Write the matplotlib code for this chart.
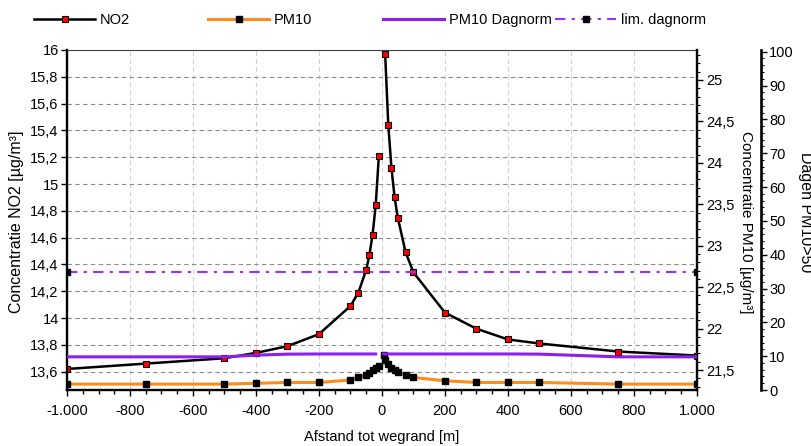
import numpy as np
import matplotlib
matplotlib.use('Agg')
import matplotlib.pyplot as plt
from matplotlib.ticker import MultipleLocator, FuncFormatter

# afstand tot wegrand [m]; 0 is a gap (no value at the road edge)
afstand = [-1000, -750, -500, -400, -300, -200, -100, -75, -50, -40, -30, -20, -10,
           0, 5, 10, 20, 30, 40, 50, 75, 100, 200, 300, 400, 500, 750, 1000]
nan = np.nan
no2 = [13.62, 13.66, 13.70, 13.74, 13.79, 13.88, 14.09, 14.19, 14.36, 14.47, 14.62, 14.84, 15.21,
       nan, nan, 15.97, 15.44, 15.12, 14.90, 14.75, 14.49, 14.34, 14.04, 13.92, 13.84, 13.81, 13.75, 13.72]
pm10 = [21.33, 21.33, 21.33, 21.34, 21.35, 21.35, 21.38, 21.42, 21.44, 21.47, 21.50, 21.53, 21.55,
        nan, 21.68, 21.62, 21.57, 21.53, 21.50, 21.48, 21.44, 21.41, 21.37, 21.35, 21.35, 21.35, 21.33, 21.33]
dagnorm = [9.8, 9.8, 9.8, 10.3, 10.6, 10.65, 10.65, 10.65, 10.65, 10.65, 10.65, 10.65, nan,
           nan, 10.65, 10.65, 10.65, 10.65, 10.65, 10.65, 10.65, 10.65, 10.65, 10.65, 10.65, 10.6, 9.8, 9.8]
lim_afstand = [-1000, 1000]
lim_dagen = [35, 35]

plt.rcParams['font.family'] = ['Liberation Sans', 'DejaVu Sans']


def nl_number(v, pos=None):
    # Dutch style: comma decimals, dot thousands
    if abs(v - round(v)) < 1e-6:
        return f"{round(v):,}".replace(',', '.')
    s = f"{v:.2f}".rstrip('0').rstrip('.')
    return s.replace('.', ',')


fig = plt.figure(figsize=(8.12, 4.46), dpi=100)
ax = fig.add_axes([67 / 812, 1 - 390 / 446, 630 / 812, 340 / 446])
ax2 = ax.twinx()
ax3 = ax.twinx()

h_no2, = ax.plot(afstand, no2, color='black', lw=1.8, marker='s', ms=4.5,
                 mfc='red', mec='black', mew=0.8, label='NO2')
h_pm10, = ax2.plot(afstand, pm10, color='#ff8c1a', lw=2.2, marker='s', ms=5,
                   mfc='black', mec='black', label='PM10')
h_dag, = ax3.plot(afstand, dagnorm, color='#8c1ef0', lw=2.2, label='PM10 Dagnorm')
h_lim, = ax3.plot(lim_afstand, lim_dagen, color='#9a30ff', lw=1.5, ls=(0, (5, 3, 1.5, 3)),
                  marker='s', ms=5, mfc='black', mec='black', label='lim. dagnorm')

# axis ranges
ax.set_xlim(-1000, 1000)
ax.set_ylim(13.463, 16.0)
ax2.set_ylim(21.259, 25.362)
ax3.set_ylim(0, 100.5)

ax.xaxis.set_major_locator(MultipleLocator(200))
ax.xaxis.set_minor_locator(MultipleLocator(50))
ax.yaxis.set_major_locator(MultipleLocator(0.2))
ax2.yaxis.set_major_locator(MultipleLocator(0.5))
ax2.yaxis.set_minor_locator(MultipleLocator(0.1))
ax3.yaxis.set_major_locator(MultipleLocator(10))
ax3.yaxis.set_minor_locator(MultipleLocator(2))
for a in (ax.xaxis, ax.yaxis, ax2.yaxis, ax3.yaxis):
    a.set_major_formatter(FuncFormatter(nl_number))

ax.grid(axis='y', ls=(0, (4, 3)), color='#8c8c8c', lw=0.8)
ax.grid(axis='x', ls=(0, (4, 3)), color='#d0d0d0', lw=0.8)

# spines
ax.spines['left'].set_linewidth(1.7)
ax.spines['bottom'].set_linewidth(1.7)
ax.spines['top'].set_linewidth(0.8)
ax.spines['top'].set_color('#404040')
ax.spines['right'].set_visible(False)
for a in (ax2, ax3):
    a.spines['top'].set_visible(False)
    a.spines['left'].set_visible(False)
    a.spines['bottom'].set_visible(False)
ax2.spines['right'].set_linewidth(1.7)
ax3.spines['right'].set_position(('axes', 1.1016))
ax3.spines['right'].set_linewidth(1.9)

ax.tick_params(axis='y', which='major', length=4, width=1, labelsize=10.5, pad=2)
ax.tick_params(axis='x', which='major', length=4, width=1, labelsize=10.5, pad=6)
ax.tick_params(axis='x', which='minor', length=3, width=1)
ax2.tick_params(axis='y', which='major', length=4, width=1, labelsize=10.5, pad=3)
ax2.tick_params(axis='y', which='minor', length=2.5, width=0.8)
ax3.tick_params(axis='y', which='major', length=4, width=1, labelsize=10.5, pad=2)
ax3.tick_params(axis='y', which='minor', length=2.5, width=0.8)

# axis titles
fig.text(17 / 812, 1 - 222 / 446, 'Concentratie NO2 [µg/m³]', rotation=90,
         ha='center', va='center', fontsize=11.5)
fig.text(746 / 812, 1 - 222 / 446, 'Concentratie PM10 [µg/m³]', rotation=270,
         ha='center', va='center', fontsize=11)
fig.text(806 / 812, 1 - 212 / 446, 'Dagen PM10>50', rotation=270,
         ha='center', va='center', fontsize=11.5)
fig.text(382 / 812, 1 - 437 / 446, 'Afstand tot wegrand [m]',
         ha='center', va='center', fontsize=10.5)

# legend row on top, one entry per slot
for handle, x0 in [(h_no2, 34), (h_pm10, 208), (h_dag, 383), (h_lim, 555)]:
    fig.legend(handles=[handle], loc='center left', bbox_to_anchor=(x0 / 812, 1 - 20 / 446),
               frameon=False, fontsize=10.5, handlelength=4.2, handletextpad=0.3,
               borderpad=0, borderaxespad=0)

fig.savefig('out.png', dpi=100)
